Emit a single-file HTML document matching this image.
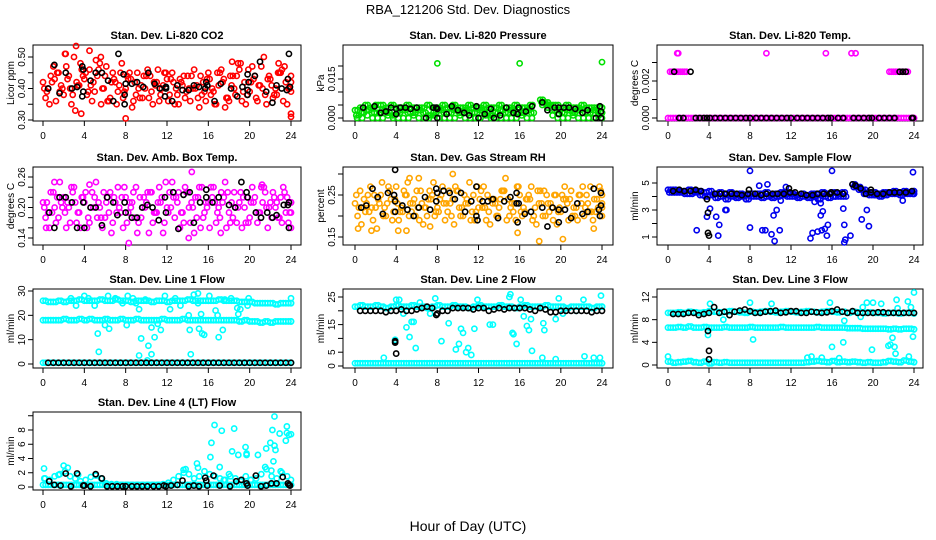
<!DOCTYPE html>
<html><head><meta charset="utf-8"><style>
html,body{margin:0;padding:0;background:#fff;}
svg{display:block;font-family:"Liberation Sans",sans-serif;}
</style></head><body>
<svg id="chart" width="936" height="540" viewBox="0 0 936 540" xmlns="http://www.w3.org/2000/svg">
<rect width="936" height="540" fill="#fff"/>
<text x="468" y="14" font-size="13" text-anchor="middle">RBA_121206  Std. Dev. Diagnostics</text>
<text x="468" y="531" font-size="14" text-anchor="middle">Hour of Day (UTC)</text>
</svg>
<script>
// ---------- data ----------
const xTicks=[0,4,8,12,16,20,24];
// CO2
const co2A=[.42,.40,.47,.45,.38,.44,.50,.41,.43,.46,.39,.48,.44,.37,.42,.45,.40,.43,.38,.41,.44,.39,.42,.40,.43,.45,.38,.41,.44,.40,.37,.42,.45,.39,.41,.43,.36,.40,.46,.42,.39,.44,.41,.38,.43,.40,.45,.42,.39];
const co2B=[.37,.44,.36,.41,.47,.35,.42,.46,.38,.36,.44,.40,.36,.45,.39,.37,.43,.36,.40,.44,.37,.42,.36,.45,.38,.35,.43,.37,.36,.40,.44,.36,.38,.35,.46,.37,.41,.44,.36,.38,.47,.36,.40,.43,.37,.45,.36,.40,.44];
const co2C=[.40,.35,.43,.39,.51,.40,.33,.48,.45,.41,.49,.35,.47,.42,.35,.48,.44,.34,.45,.37,.46,.35,.46,.41,.36,.42,.35,.44,.40,.46,.34,.39,.43,.35,.45,.34,.44,.38,.48,.35,.42,.37,.47,.35,.41,.38,.46,.35,.32];
const co2OutH=[3.2,2.2,4.5,3.7,8,24,22.8,18.3,5.6];
const co2OutV=[.535,.51,.52,.32,.305,.31,.48,.485,.50];
const co2BlkH=[0.5,1.1,1.6,2.2,2.8,3.3,3.8,3.9,3.8,3.9,4.6,5.1,5.7,6.3,6.8,7.3,7.8,7.9,7.9,8,8.6,9.1,9.7,10.2,10.8,11.3,11.8,11.9,11.9,12.5,13,13.5,14.1,14.6,15.1,15.7,15.8,15.9,16.6,17.2,18.2,18.8,19.3,19.8,19.8,19.8,19.9,20.5,21,21.6,22.2,22.6,23.1,23.6,23.7,23.8,23.9];
const co2BlkV=[.40,.475,.385,.45,.40,.405,.47,.46,.375,.39,.425,.45,.45,.425,.36,.51,.445,.38,.35,.415,.415,.42,.405,.45,.415,.40,.375,.40,.405,.36,.41,.395,.395,.41,.405,.40,.42,.41,.36,.415,.40,.375,.405,.445,.38,.395,.42,.44,.485,.39,.355,.41,.40,.395,.43,.51,.405];
// Pressure
const prsA=[0.003,0.004,0.005,0.004,0.005,0.005,0.004,0.005,0.004,0.004,0.005,0.004,0.004,0.004,0.005,0.004,0.004,0.005,0.004,0.005,0.004,0.004,0.005,0.004,0.004,0.005,0.004,0.004,0.005,0.004,0.004,0.005,0.004,0.004,0.005,null,0.007,0.006,0.005,0.005,0.004,0.005,0.004,0.004,0.005,0.004,0.004,0.004,0.004];
const prsB=[0.001,0.002,0.003,0.002,0.002,0.003,0.002,0.001,0.002,0.003,0.002,0.002,0.003,0.002,0.001,0.002,0.003,0.002,0.002,0.003,0.002,0.003,0.002,0.002,0.003,0.002,0.001,0.002,0.003,0.002,0.003,0.002,0.002,0.003,0.002,null,0.006,0.005,0.003,0.003,0.002,0.003,0.002,0.003,0.002,0.002,0.003,0.002,0.002];
const prsC=[0,0,0.001,0,0,0,0.001,0,0,0,0,0.001,0,0,0,0.001,0,0,0,0,0.001,0,0,0,0,0.001,0,0,0,0,0,0,0.001,0,0,null,0.005,0.004,0.001,0,0,0,0.001,0,0,0,0,0.001,0];
const prsOutH=[8,16,24];
const prsOutV=[0.021,0.021,0.0215];
const prsBlkH=[0.8,1.9,2.5,3.0,3.5,4,4,4.4,4.9,5.4,6,6.9,7.6,7.9,8,8,8.9,9.4,10,10.6,11.1,11.8,12,12.6,13.2,13.5,14.1,14.7,15.4,15.8,15.9,16.6,17.2,18.2,18.7,19.4,19.8,19.8,20.3,20.8,21.4,22.1,22.6,23.4,23.8,23.9,23.9];
const prsBlkV=[.004,.0045,.002,.0025,.004,.0035,.0015,.004,.004,.0035,.004,0,.004,.004,0,.0035,.0015,.0045,.003,.002,.001,.0045,0,.0015,.0035,0,.001,.004,.002,.0015,.004,.0025,.0045,.006,.003,.004,.004,.0015,.004,.004,.0035,.002,.003,0,.0045,.0025,0];
// Li-820 temp
const tmpMain=[0,0,0,0,0,0,0,0,0,0,0,0,0,0,0,0,0,0,0,0,0,0,0,0,0,0,0,0,0,0,0,0,0,0,0,0,0,0,0,0,0,0,0,0,0,0,0,0,0];
const tmpHiH=[0.2,0.4,0.6,0.8,1.0,1.2,1.4,1.6,1.8,21.6,21.8,22.0,22.2,22.4,22.6,22.8,23.0,23.2,23.4,0.9,1.0,9.6,15.4,17.9,18.3];
const tmpHiV=[.0025,.0025,.0025,.0025,.0025,.0025,.0025,.0025,.0025,.0025,.0025,.0025,.0025,.0025,.0025,.0025,.0025,.0025,.0025,.0035,.0035,.0035,.0035,.0035,.0035];
const tmpBlkH=[0.6,2.2,22.6,22.9,23.2,1.1,1.5,2.7,3.1,3.5,3.8,4.1,4.6,5.1,5.6,6.1,6.6,7.1,7.6,8.0,8.6,9.1,9.6,10.1,10.6,11.1,11.6,12.0,12.6,13.1,13.6,14.1,14.6,15.1,15.6,15.9,16.6,17.1,18.1,18.6,19.1,19.6,19.9,20.6,21.1,21.6,22.1,23.8,23.9];
const tmpBlkV=[.0025,.0025,.0025,.0025,.0025,0,0,0,0,0,0,0,0,0,0,0,0,0,0,0,0,0,0,0,0,0,0,0,0,0,0,0,0,0,0,0,0,0,0,0,0,0,0,0,0,0,0,0,0];
// Amb box temp
const ambA=[.21,.19,.23,.18,.22,.20,.24,.19,.21,.17,.22,.20,.18,.23,.21,.19,.22,.20,.24,.18,.21,.23,.19,.22,.20,.25,.21,.19,.23,.20,.22,.18,.21,.24,.20,.22,.19,.23,.21,.20,.18,.22,.19,.23,.21,.20,.22,.19,.21];
const ambB=[.18,.23,.17,.21,.16,.24,.17,.22,.16,.23,.18,.16,.22,.17,.24,.16,.19,.23,.17,.22,.15,.19,.24,.17,.23,.18,.16,.24,.17,.22,.16,.21,.24,.17,.23,.16,.21,.17,.16,.22,.24,.17,.21,.16,.23,.18,.24,.17,.19];
const ambC=[.20,.16,.20,.25,.19,.17,.21,.16,.23,.20,.25,.18,.21,.15,.19,.22,.17,.21,.15,.20,.23,.17,.21,.15,.19,.22,.23,.17,.20,.15,.24,.19,.16,.21,.18,.25,.17,.20,.23,.17,.21,.19,.24,.20,.18,.21,.17,.22,.16];
const ambOutH=[8.3,14.4,14.1,1.1,4.5,17.2,21.2,0.3];
const ambOutV=[.13,.27,.14,.25,.245,.15,.245,.16];
const ambBlkH=[0.6,1.1,1.6,2.2,2.8,3.3,3.9,4,4.6,5.1,5.7,6.2,6.8,7.2,7.9,8,8.6,9.1,9.6,10.1,10.6,11.2,11.8,11.9,12.6,13.1,13.6,14.2,14.6,15.2,15.8,15.8,16.4,17,18,18.6,19.2,19.7,19.8,20.6,21.1,21.7,22.2,22.6,23.3,23.7,23.8,23.8];
const ambBlkV=[.19,.16,.22,.22,.21,.16,.21,.16,.20,.20,.165,.22,.21,.185,.21,.19,.18,.18,.20,.205,.20,.175,.22,.19,.23,.158,.225,.23,.17,.21,.235,.22,.21,.22,.205,.20,.25,.23,.22,.19,.18,.19,.18,.185,.205,.205,.16,.21];
// Gas stream RH
const rhA=[.23,.26,.21,.27,.22,.25,.20,.24,.27,.22,.25,.21,.26,.23,.20,.25,.22,.27,.21,.24,.26,.20,.23,.25,.22,.27,.21,.24,.22,.26,.20,.23,.25,.21,.24,.22,.26,.20,.23,.25,.21,.24,.26,.22,.23,.25,.21,.24,.22];
const rhB=[.20,.22,.25,.19,.24,.20,.27,.21,.19,.26,.20,.24,.19,.22,.26,.20,.24,.19,.23,.27,.20,.23,.19,.21,.26,.19,.24,.20,.26,.19,.23,.27,.20,.24,.19,.26,.20,.23,.19,.21,.24,.19,.22,.25,.20,.21,.24,.27,.20];
const rhC=[.25,.18,.23,.22,.17,.28,.23,.19,.23,.21,.28,.23,.22,.18,.24,.28,.21,.23,.26,.18,.22,.25,.28,.19,.24,.22,.18,.23,.24,.29,.22,.19,.21,.24,.27,.18,.23,.25,.22,.18,.25,.23,.20,.19,.27,.23,.19,.22,.25];
const rhOutH=[0.3,1.6,4.2,5,5.3,6.2,7.3,9.5,15.8,17.9,20.2,23.2];
const rhOutV=[.17,.165,.165,.165,.29,.29,.175,.30,.16,.14,.145,.17];
const rhBlkH=[0.6,1.1,1.7,2.2,2.7,3.2,3.9,3.8,3.9,3.9,4.6,5.1,5.7,6.2,6.8,7.3,7.9,7.9,8,8.6,9.2,9.7,10.3,10.7,11.3,11.8,11.8,11.9,12.4,12.9,13.4,13.9,14.5,15.1,15.7,15.7,15.8,15.9,16.5,17.1,18.2,18.7,19.2,19.8,19.8,20.4,21,21.6,22.1,22.6,23.2,23.7,23.8,23.9,23.9];
const rhBlkV=[.22,.225,.265,.245,.205,.255,.31,.25,.21,.235,.225,.215,.20,.22,.245,.215,.265,.235,.255,.26,.255,.24,.255,.21,.235,.27,.20,.19,.235,.235,.24,.195,.235,.245,.255,.23,.185,.23,.205,.21,.22,.175,.22,.215,.185,.215,.195,.23,.205,.21,.265,.215,.20,.225,.255];
// Sample flow
const smpA=[4.5,4.5,4.4,4.4,4.5,4.4,4.4,4.3,4.4,4.2,4.3,4.2,4.3,4.1,4.2,4.1,4.2,4.2,4.2,4.3,4.1,4.2,4.3,4.2,4.2,4.1,4.2,4.1,4.2,4.2,4.3,4.2,4.3,4.2,4.3,null,4.9,4.7,4.5,4.3,4.3,4.2,4.3,4.3,4.4,4.3,4.4,4.3,4.4];
const smpB=[4.3,4.3,4.3,4.2,4.2,4.3,4.1,4.0,4.1,3.9,4.0,3.8,4.0,3.9,4.0,3.8,4.0,4.0,3.9,4.0,3.9,4.0,4.1,4.0,4.0,3.9,4.0,3.9,4.0,3.8,4.0,3.9,4.0,4.0,4.0,null,4.7,4.5,4.2,4.1,4.1,4.0,4.1,4.2,4.2,4.1,4.2,4.2,4.2];
const smpOutH=[2.8,3.8,4.1,4.7,4.9,5.0,5.6,5.7,8,8,8.9,9.2,9.5,9.7,10.1,10.3,10.4,10.6,10.9,11.5,13.9,14.1,14.6,14.9,15.0,15.1,15.3,15.5,15.6,16,16.3,17.1,17.2,17.2,17.3,17.8,18.9,19.4,19.6,20.2,22.9,23.9,14.9,14.3,11.0,7.6];
const smpOutV=[1.5,2.5,3.1,2.5,1.1,1.9,3.0,3.0,1.7,5.9,4.8,1.5,1.5,4.9,1.2,2.6,0.7,3.0,1.5,4.7,0.9,1.3,1.4,2.6,1.5,2.9,1.6,1.1,1.9,5.9,4.0,3.1,1.9,0.6,0.8,1.1,2.3,3.0,1.8,4.1,3.7,5.8,3.5,3.6,3.7,3.8];
const smpBlkH=[0.5,1.1,1.6,2.2,2.7,3.2,3.8,3.9,3.9,4.0,4.6,5.1,5.6,6.2,6.7,7.2,7.8,7.9,8.5,9.1,9.6,10.2,10.7,11.3,11.8,11.9,12.4,13,13.5,14.1,14.6,15.2,15.8,15.9,16.5,17.1,18,18.3,18.8,19.3,19.8,19.8,20.4,21,21.6,22.1,22.6,23.2,23.8];
const smpBlkV=[4.4,4.5,4.4,4.4,4.5,4.4,3.8,2.8,1.3,1.1,4.2,4.2,4.2,4.2,4.2,4.1,4.2,4.5,4.2,4.1,4.2,4.2,4.2,4.2,4.6,4.3,4.3,4.2,4.1,4.1,4.2,4.2,4.2,4.3,4.3,4.2,4.9,4.8,4.6,4.2,4.5,4.3,4.2,4.2,4.3,4.3,4.3,4.3,4.4];
// Line flows: black every 0.5h from 0.5 to 24
const blkHalfH=[0.5,1,1.5,2,2.5,3,3.5,4,4.5,5,5.5,6,6.5,7,7.5,8,8.5,9,9.5,10,10.5,11,11.5,12,12.5,13,13.5,14,14.5,15,15.5,16,16.5,17,17.5,18,18.5,19,19.5,20,20.5,21,21.5,22,22.5,23,23.5,24];
// Line 1
const l1A=[26,25.5,25.5,26,25.5,26,26,26.5,26,26,26,26.5,26,26,26.5,26,26,25.5,26,26,26,25.5,26,26,25.5,26,26,26,26.5,26,26,26,26,26,26.5,26,26,26,25.5,25.5,25.5,25,25,25,25,24.5,25,25,25];
const l1B=[18,18,18,18,18.5,18,18,18.5,18,18.5,18,18,18.5,18,18,18.5,18,18,18.5,18,18,18,18,18.5,18,18,18,18.5,18,18,18,18,18,18,18,18,18,18,17.5,18,17.5,17.5,17,17.5,17,17.5,17.5,17.5,17.5];
const l1C=[0.5,0.5,0.5,0.5,0.5,0.5,0.5,0.5,0.5,0.5,0.5,0.5,0.5,0.5,0.5,0.5,0.5,0.5,0.5,0.5,0.5,0.5,0.5,0.5,0.5,0.5,0.5,0.5,0.5,0.5,0.5,0.5,0.5,0.5,0.5,0.5,0.5,0.5,0.5,0.5,0.5,0.5,0.5,0.5,0.5,0.5,0.5,0.5,0.5];
const l1OutH=[2.7,3.2,4,4.4,5.0,5.3,5.4,6,6.4,6.3,7.0,7.7,8.2,8.1,8.7,9.0,9.3,9.3,9.5,9.9,10.1,10.2,10.5,10.5,10.8,11.1,11.4,11.8,12.3,12.8,13.3,14.1,14.2,14.3,14.6,15.0,15.0,15.1,15.3,15.4,15.6,16.0,16.1,16.7,16.9,17.0,17.4,17.6,18.2,18.8,18.9,19.1,19.8,19.9,24];
const l1OutV=[27,24,28,27,24,12.5,5,16,14.5,28,27,25,28,16,27,25,22.5,3.5,10.5,26.5,1.5,7.5,4,15,11,16.5,14,28,22.5,27,24,20,14,4,28.5,29,25,14.5,20.5,12.5,12,26,28,22,20,11,14,26.5,27,23,20.5,22.5,24,27,27];
const l1Blk=[0.5,0.5,0.5,0.5,0.5,0.5,0.5,0.5,0.5,0.5,0.5,0.5,0.5,0.5,0.5,0.5,0.5,0.5,0.5,0.5,0.5,0.5,0.5,0.5,0.5,0.5,0.5,0.5,0.5,0.5,0.5,0.5,0.5,0.5,0.5,0.5,0.5,0.5,0.5,0.5,0.5,0.5,0.5,0.5,0.5,0.5,0.5,0.5];
// Line 2
const l2A=[21.5,22,21.5,21.5,22,21.5,21,21.5,22,21.5,21.5,22,21.5,21.5,21,21.5,22,21.5,21.5,22,21.5,21.5,21,21.5,22,21.5,21.5,21.5,22,21.5,21.5,21,21.5,22,21.5,21.5,21.5,22,21.5,21.5,21.5,21,21.5,21.5,21.5,21.5,21,21.5,21.5];
const l2B=[1,1,1,1,1,1,1,1,1,1,1,1,1,1,1,1,1,1,1,1,1,1,1,1,1,1,1,1,1,1,1,1,1,1,1,1,1,1,1,1,1,1,1,1,1,1,1,1,1];
const l2OutH=[2.8,4,4.3,4.7,5.0,5.3,5.5,5.7,5.9,6.3,7.3,7.8,8.4,9.1,9.8,10.1,10.3,10.5,10.8,11.0,11.3,11.6,11.9,13.1,13.4,14.3,15.0,15.1,15.3,15.4,15.7,16.1,16.4,16.7,16.9,17.1,17.2,18.3,18.4,18.2,19.5,19.8,19.5,22.2,22.3,23.2,23.8,23.9,21.5,20.2,3.9];
const l2OutV=[3,24,24,19,14,10.5,16,16,6.5,23,19,24.5,9,15.5,6,8,13.5,12,5,6.5,4,13.5,24,15,15,22,25,26,12,11.5,8,24,18,14.5,13,17,5.5,15.5,13,3,17,24.5,2.5,24,3.5,3,3,25.5,20,19,9.5];
const l2Blk=[20,20,20,20,20,19.5,20,20,20.5,20,20,20.5,21,21.5,21,19,20,20,21,21,21,21,20.5,21,21,20,20.5,21,20.5,21,21,21,21,20.5,20,21,20.5,19.5,19.5,20,20,20,20,20,20,19.5,20,20];
const l2BlkXH=[3.9,3.9,4,7.9];
const l2BlkXV=[8.5,9,4.5,18.5];
// Line 3
const l3A=[9.2,9.2,9.3,9.2,9.4,9.3,9.2,9.3,9.5,9.4,9.3,9.4,9.5,9.4,9.3,9.2,9.4,9.3,9.4,9.5,9.4,9.3,9.4,9.5,9.4,9.3,9.4,9.5,9.4,9.3,9.4,9.5,9.4,9.3,9.4,9.2,9.4,9.3,9.2,9.3,9.2,9.2,9.1,9.2,9.2,9.1,9.2,9.2,9.1];
const l3B=[6.6,6.6,6.7,6.6,6.8,6.6,6.6,6.7,6.6,6.6,6.6,6.7,6.6,6.6,6.6,6.6,6.7,6.6,6.6,6.6,6.6,6.6,6.7,6.6,6.6,6.6,6.6,6.6,6.6,6.7,6.6,6.6,6.6,6.6,6.6,6.5,6.5,6.5,6.4,6.4,6.4,6.4,6.4,6.3,6.4,6.3,6.4,6.4,6.3];
const l3C=[0.6,0.4,0.5,0.6,0.7,0.5,0.4,0.6,0.3,0.5,0.4,0.5,0.4,0.4,0.4,0.4,0.4,0.4,0.4,0.4,0.4,0.4,0.4,0.4,0.4,0.4,0.4,0.5,0.6,0.7,0.6,0.5,0.7,0.5,0.6,0.5,0.6,0.5,0.4,0.5,0.4,0.4,0.5,0.7,0.6,0.5,0.8,0.6,0.5];
const l3OutH=[0,3.9,4.1,5.4,8,8.3,10.1,13.6,14,15,15.8,16,16.7,17.1,17.2,18.8,19,19.4,19.9,20,20.8,21.5,21.7,21.9,22.1,22.2,22.3,22.4,23.4,23.7,23.9,24,23.5];
const l3OutV=[1.5,5.3,10.8,8,11,4.5,10.8,1.3,1.5,1.3,11,3.2,1.2,4,7.8,8.5,10.2,11,2.7,11,10.8,3.4,3.6,4.8,3.2,2,11.5,10,11.2,10.2,5,12.8,1.5];
const l3Blk=[9,9,9,9.2,9.2,8.8,9,9.2,10.2,9.2,9.4,8.8,9.4,9.6,9.8,9.5,9.2,9.2,9.4,9.5,9.6,9.2,9.3,9.5,9.5,9.2,9.2,9.4,9.3,9.2,9.3,9.5,9.8,9.4,9.2,9.5,9.2,9.2,9.2,9.2,9.3,9.3,9.2,9.2,9.2,9.2,9.2,9.2];
const l3BlkXH=[3.9,4,4];
const l3BlkXV=[6,2.5,1];
// Line 4
const l4A=[0.3,0.3,0.3,0.3,0.3,0.3,0.3,0.3,0.3,0.3,0.3,0.3,0.3,0.3,0.3,0.3,0.3,0.3,0.3,0.3,0.3,0.3,0.3,0.3,0.3,0.3,0.3,0.3,0.3,0.3,0.3,0.3,0.3,0.3,0.3,0.3,0.3,0.3,0.3,0.3,0.3,0.3,0.3,0.3,0.3,0.3,0.3,0.3,0.3];
const l4B=[1.2,1.0,1.5,1.8,2.2,1.5,1.2,0.8,1.0,1.4,1.6,1.2,0.5,0.4,0.4,0.3,0.3,0.3,0.3,0.3,0.3,0.3,0.3,0.4,0.6,1.0,1.5,2.0,1.8,1.2,1.5,2.2,1.8,1.5,1.2,1.0,1.5,1.2,0.8,1.5,1.0,1.2,1.8,2.5,1.5,1.2,2.0,1.5,1.0];
const l4OutH=[0.1,0.2,2.0,2.4,1.5,3.4,13.6,13.8,14.9,15.0,16.2,16.3,16.6,17.1,17.3,18.0,18.3,18.5,18.9,19.6,19.7,19.7,20.8,21.5,21.6,22.0,22.1,22.2,22.3,22.4,22.4,22.5,22.9,23.0,23.5,23.6,23.6,23.8,24,20.1,17.5];
const l4OutV=[2.6,1.2,3.0,2.7,1.7,1.7,2.4,2.5,3.3,2.7,4.2,6.2,8.7,2.8,7.9,1.8,5.0,8.2,4.5,5.6,4.7,4.5,4.5,2.8,5.4,6.2,2.3,8.0,3.6,5.8,9.9,5.2,7.5,2.2,6.5,7.6,8.5,7.3,7.4,1.0,1.0];
const l4BlkH=[0.6,1.1,1.7,2.2,2.7,3.3,3.9,4.0,4.6,5.1,5.7,6.2,6.7,7.2,7.7,8.0,8.6,9.1,9.6,10.1,10.7,11.2,11.7,11.9,12.4,13,13.5,14.1,14.6,15.1,15.7,15.8,15.9,16.5,17.1,18.1,18.7,19.2,19.7,19.8,20.6,21.1,21.6,22.1,22.6,23.2,23.7,23.8,23.9];
const l4BlkV=[0.8,0.3,0.2,1.9,0.1,1.9,0.2,0.2,0.1,1.8,1.2,0.1,0.1,0.1,0.1,0.1,0.1,0.1,0.1,0.1,0.1,0.1,0.2,0.1,0.2,0.3,0.9,0.1,0.2,0.1,1.3,0.9,0.2,1.6,0.2,0.1,0.8,1.0,0.5,0.2,1.6,0.1,0.2,0.5,0.5,1.4,0.5,0.3,0.2];

// ---------- drawing ----------
const NS='http://www.w3.org/2000/svg';
const svg=document.getElementById('chart');
function mk(tag,attrs,parent){const e=document.createElementNS(NS,tag);for(const k in attrs)e.setAttribute(k,attrs[k]);parent.appendChild(e);return e;}
const cols=[{x0:33,x1:301,h0:43,h24:291},{x0:343,x1:613,h0:355,h24:602},{x0:657,x1:923,h0:668,h24:914}];
const rows=[{y0:45,y1:121},{y0:167,y1:245},{y0:289,y1:368},{y0:412,y1:490}];
function panel(name,title,c,r,ylab,cal,ticks,labels,dec){
  const C=cols[c],R=rows[r];
  const g=mk('g',{},svg);
  
  
  const xs=h=>C.h0+h*(C.h24-C.h0)/24;
  const ys=v=>cal[1]+(v-cal[0])*(cal[3]-cal[1])/(cal[2]-cal[0]);
  const t=mk('text',{x:(C.x0+C.x1)/2,y:R.y0-6,'font-size':11,'font-weight':'bold','text-anchor':'middle'},g);
  
  
  t.textContent=title;
  const cy=(R.y0+R.y1)/2, tx=C.x0-19;
  const yl=mk('text',{x:0,y:0,'font-size':10,'text-anchor':'middle',transform:`translate(${tx} ${cy}) rotate(-90)`},g);
  
  
  yl.textContent=ylab;
  const ax=mk('g',{stroke:'#000','stroke-width':1,fill:'none'},g);
  
  
  xTicks.forEach(h=>{
    mk('line',{x1:xs(h),x2:xs(h),y1:R.y1,y2:R.y1+5},ax);
    const tl=mk('text',{x:xs(h),y:R.y1+18,'font-size':10,'text-anchor':'middle',fill:'#000',stroke:'none'},g);
    
    
    tl.textContent=h;
  });
  const ay=mk('g',{stroke:'#000','stroke-width':1,fill:'none'},g);
  
  
  const ax0=C.x0;
  ticks.forEach(v=>{mk('line',{x1:ax0-5,x2:ax0,y1:ys(v),y2:ys(v)},ay);});
  labels.forEach(v=>{
    const lx=ax0-8,ly=ys(v);
    const tl=mk('text',{x:0,y:0,'font-size':10,'text-anchor':'middle',transform:`translate(${lx} ${ly}) rotate(-90)`},g);
    
    
    tl.textContent=v.toFixed(dec);
  });
  const box=mk('rect',{x:C.x0,y:R.y0,width:C.x1-C.x0,height:R.y1-R.y0,fill:'none',stroke:'#000','stroke-width':1},g);
  
  
  const pts=mk('g',{fill:'none','stroke-width':1.6},g);
  
  
  return {
    half(vals,off,color){vals.forEach((v,i)=>{if(v===null)return;const h=Math.min(24,i*0.5+off);
      const p=mk('circle',{cx:xs(h),cy:ys(v),r:2.6,stroke:color},pts);
      
      });},
    pairs(hs,vs,color){hs.forEach((h,i)=>{
      const p=mk('circle',{cx:xs(h),cy:ys(vs[i]),r:2.6,stroke:color},pts);
      
      });}
  };
}
const RED='#ff0000',GRN='#00e000',MAG='#ff00ff',ORG='#ffa500',BLU='#0000ee',CYN='#00ffff',BLK='#000';
let p;
p=panel('panel-co2','Stan. Dev. Li-820 CO2',0,0,'Licor ppm',[0.30,120,0.50,57],[0.30,0.35,0.40,0.45,0.50],[0.30,0.40,0.50],2);
p.half(co2A,0,RED);p.half(co2B,0.25,RED);p.half(co2C,0.125,RED);p.half(co2A.slice().reverse(),0.375,RED);p.pairs(co2OutH,co2OutV,RED);p.pairs(co2BlkH,co2BlkV,BLK);
p=panel('panel-pressure','Stan. Dev. Li-820 Pressure',1,0,'kPa',[0,118,0.015,79],[0,0.005,0.010,0.015,0.020],[0,0.015],3);
p.half(prsA,0,GRN);p.half(prsA,0.25,GRN);p.half(prsB,0.125,GRN);p.half(prsB,0.375,GRN);p.half(prsC,0.2,GRN);p.pairs(prsOutH,prsOutV,GRN);p.pairs(prsBlkH,prsBlkV,BLK);
p=panel('panel-li820-temp','Stan. Dev. Li-820 Temp.',2,0,'degrees C',[0,118,0.002,81],[0,0.001,0.002,0.003],[0,0.002],3);
p.half(tmpMain,0,MAG);p.half(tmpMain,0.25,MAG);p.pairs(tmpHiH,tmpHiV,MAG);p.pairs(tmpBlkH,tmpBlkV,BLK);
p=panel('panel-amb-temp','Stan. Dev. Amb. Box Temp.',0,1,'degrees C',[0.14,238,0.26,177],[0.14,0.16,0.18,0.20,0.22,0.24,0.26],[0.14,0.20,0.26],2);
p.half(ambA,0,MAG);p.half(ambB,0.25,MAG);p.half(ambC,0.125,MAG);p.half(ambA.slice().reverse(),0.375,MAG);p.pairs(ambOutH,ambOutV,MAG);p.pairs(ambBlkH,ambBlkV,BLK);
p=panel('panel-gas-rh','Stan. Dev. Gas Stream RH',1,1,'percent',[0.15,237,0.25,195],[0.15,0.20,0.25,0.30],[0.15,0.25],2);
p.half(rhA,0,ORG);p.half(rhB,0.25,ORG);p.half(rhC,0.125,ORG);p.half(rhA.slice().reverse(),0.375,ORG);p.pairs(rhOutH,rhOutV,ORG);p.pairs(rhBlkH,rhBlkV,BLK);
p=panel('panel-sample-flow','Stan. Dev. Sample Flow',2,1,'ml/min',[1,237,5,183],[1,2,3,4,5],[1,3,5],0);
p.half(smpA,0,BLU);p.half(smpA,0.25,BLU);p.half(smpB,0.125,BLU);p.half(smpB,0.375,BLU);p.pairs(smpOutH,smpOutV,BLU);p.pairs(smpBlkH,smpBlkV,BLK);
p=panel('panel-line1','Stan. Dev. Line 1 Flow',0,2,'ml/min',[0,364,30,291],[0,10,20,30],[0,10,20,30],0);
[l1A,l1B,l1C].forEach(a=>{p.half(a,0,CYN);p.half(a,0.25,CYN);});p.pairs(l1OutH,l1OutV,CYN);p.pairs(blkHalfH,l1Blk,BLK);
p=panel('panel-line2','Stan. Dev. Line 2 Flow',1,2,'ml/min',[0,366,25,297],[0,5,10,15,20,25],[0,5,15,25],0);
[l2A,l2B].forEach(a=>{p.half(a,0,CYN);p.half(a,0.25,CYN);});p.pairs(l2OutH,l2OutV,CYN);p.pairs(blkHalfH,l2Blk,BLK);p.pairs(l2BlkXH,l2BlkXV,BLK);
p=panel('panel-line3','Stan. Dev. Line 3 Flow',2,2,'ml/min',[0,365,12,297],[0,4,8,12],[0,4,8,12],0);
[l3A,l3B,l3C].forEach(a=>{p.half(a,0,CYN);p.half(a,0.25,CYN);});p.pairs(l3OutH,l3OutV,CYN);p.pairs(blkHalfH,l3Blk,BLK);p.pairs(l3BlkXH,l3BlkXV,BLK);
p=panel('panel-line4','Stan. Dev. Line 4 (LT) Flow',0,3,'ml/min',[0,487,8,430],[0,2,4,6,8,10],[0,2,4,6,8],0);
p.half(l4A,0,CYN);p.half(l4A,0.25,CYN);p.half(l4B,0.125,CYN);p.pairs(l4OutH,l4OutV,CYN);p.pairs(l4BlkH,l4BlkV,BLK);
</script>
</body></html>
